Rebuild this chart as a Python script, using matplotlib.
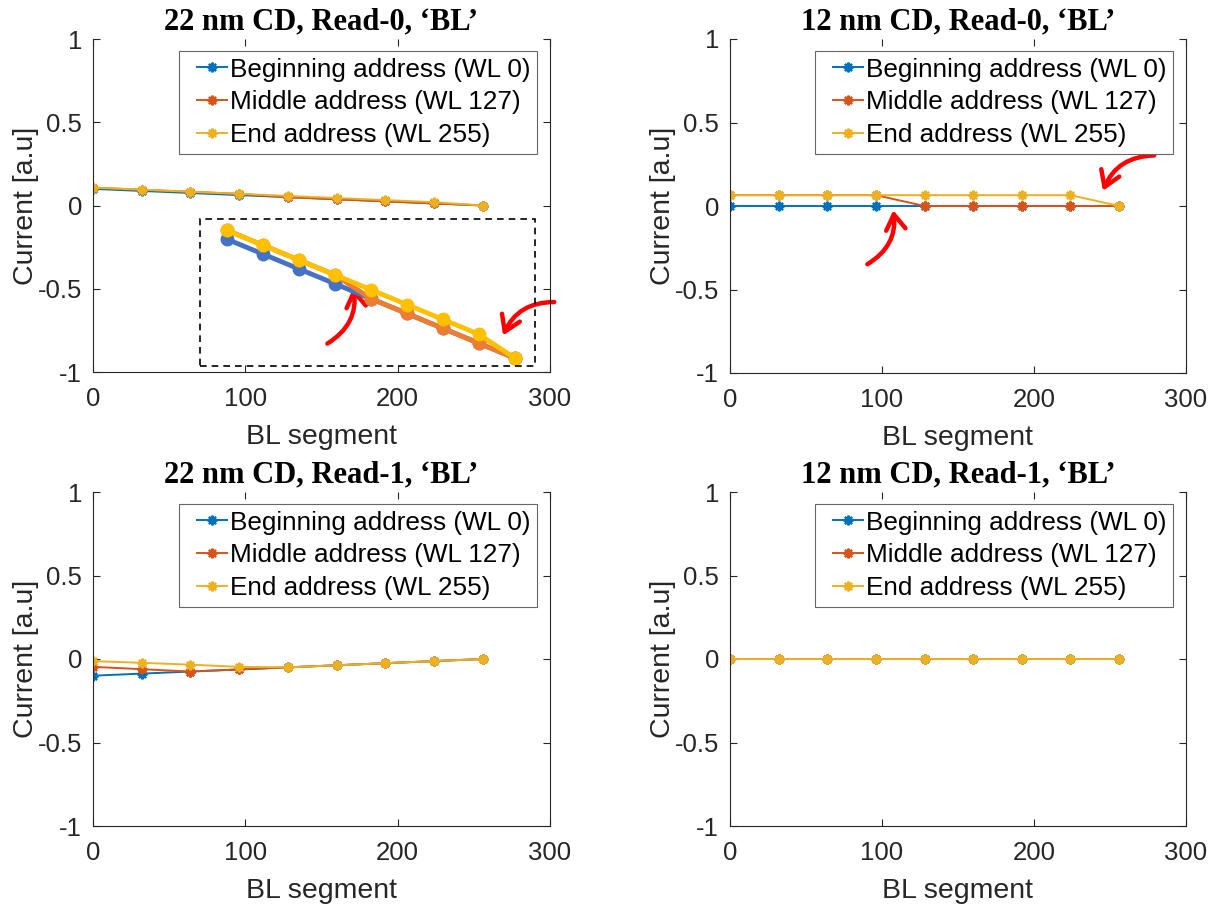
import matplotlib
matplotlib.use("Agg")
import matplotlib.pyplot as plt
from matplotlib.patches import FancyArrowPatch, Rectangle
from matplotlib.legend_handler import HandlerLine2D

# BL segment positions (9 sampled segments along the bit line)
bl_segment = [0, 32, 64, 96, 128, 160, 192, 224, 256]

series_labels = ["Beginning address (WL 0)", "Middle address (WL 127)", "End address (WL 255)"]

# 22 nm CD, Read-0
r0_22_wl0 = [0.100, 0.0875, 0.075, 0.0625, 0.050, 0.0375, 0.025, 0.0125, 0.0]
r0_22_wl127 = [0.1075, 0.095, 0.0825, 0.070, 0.050, 0.0375, 0.025, 0.0125, 0.0]
r0_22_wl255 = [0.1075, 0.095, 0.0825, 0.070, 0.0575, 0.045, 0.0325, 0.020, 0.0]

# 12 nm CD, Read-0
r0_12_wl0 = [0.0, 0.0, 0.0, 0.0, 0.0, 0.0, 0.0, 0.0, 0.0]
r0_12_wl127 = [0.065, 0.065, 0.065, 0.065, 0.0, 0.0, 0.0, 0.0, 0.0]
r0_12_wl255 = [0.065, 0.065, 0.065, 0.065, 0.065, 0.065, 0.065, 0.065, 0.0]

# 22 nm CD, Read-1
r1_22_wl0 = [-0.100, -0.0875, -0.075, -0.0625, -0.050, -0.0375, -0.025, -0.0125, 0.0]
r1_22_wl127 = [-0.047, -0.061, -0.075, -0.0625, -0.050, -0.0375, -0.025, -0.0125, 0.0]
r1_22_wl255 = [-0.0125, -0.023, -0.034, -0.047, -0.050, -0.0375, -0.025, -0.0125, 0.0]

# 12 nm CD, Read-1
r1_12_wl0 = [0.0] * 9
r1_12_wl127 = [0.0] * 9
r1_12_wl255 = [0.0] * 9

titles = ["22 nm CD, Read-0, \u2018BL\u2019", "12 nm CD, Read-0, \u2018BL\u2019",
          "22 nm CD, Read-1, \u2018BL\u2019", "12 nm CD, Read-1, \u2018BL\u2019"]
panels = [
    (r0_22_wl0, r0_22_wl127, r0_22_wl255),
    (r0_12_wl0, r0_12_wl127, r0_12_wl255),
    (r1_22_wl0, r1_22_wl127, r1_22_wl255),
    (r1_12_wl0, r1_12_wl127, r1_12_wl255),
]

x_ticks = [0, 100, 200, 300]
y_ticks = [-1, -0.5, 0, 0.5, 1]
y_tick_labels = ["-1", "-0.5", "0", "0.5", "1"]

line_colors = ["#0072BD", "#D95319", "#EDB120"]
zoom_colors = ["#4472C4", "#ED7D31", "#FFC000"]
axis_gray = "#262626"

plt.rcParams["font.family"] = ["Liberation Sans", "DejaVu Sans"]

W, H = 1227, 909
fig = plt.figure(figsize=(W / 100, H / 100), dpi=100)

positions = [
    (93, 39, 457, 333),
    (730, 39, 456, 334),
    (93, 492, 457, 334),
    (730, 492, 456, 334),
]

asterisk = (8, 2, 0)
# legend line sample indented inside its handle box
legend_handler = HandlerLine2D(xpad=0.45)

axes = []
for (px, py, pw, ph), title, data in zip(positions, titles, panels):
    ax = fig.add_axes([px / W, 1 - (py + ph) / H, pw / W, ph / H])
    for vals, col, lab in zip(data, line_colors, series_labels):
        ax.plot(bl_segment, vals, color=col, lw=1.4, marker=asterisk,
                markersize=7, markeredgewidth=1.6, label=lab)
    ax.set_xlim(0, 300)
    ax.set_ylim(-1, 1)
    ax.set_xticks(x_ticks)
    ax.set_yticks(y_ticks)
    ax.set_yticklabels(y_tick_labels)
    ax.tick_params(direction="in", length=5, width=0.8, colors=axis_gray,
                   labelsize=18.5, right=True, top=True)
    ax.tick_params(axis="x", pad=11)
    ax.tick_params(axis="y", pad=8)
    ax.spines["top"].set_visible(False)
    for s in ("left", "right", "bottom"):
        ax.spines[s].set_color(axis_gray)
        ax.spines[s].set_linewidth(0.8)
    ax.set_xlabel("BL segment", fontsize=20.5, color=axis_gray, labelpad=9)
    ax.set_ylabel("Current [a.u]", fontsize=20.5, color=axis_gray, labelpad=-1)
    ax.set_title(title, fontsize=22, fontweight="bold",
                 family=["Liberation Serif", "DejaVu Serif"], pad=7)
    handles, labels = ax.get_legend_handles_labels()
    leg = ax.legend(handles, labels, loc="upper right",
                    bbox_to_anchor=(0.9716, 0.964),
                    borderaxespad=0, fontsize=18.8, handlelength=1.6,
                    handletextpad=0.12, labelspacing=0.34, borderpad=0.25,
                    fancybox=False, framealpha=1, edgecolor="#666666",
                    handler_map={h: legend_handler for h in handles})
    leg.get_frame().set_linewidth(0.8)
    for t in leg.get_texts():
        t.set_color("black")
    axes.append(ax)

# Magnified view of the 22 nm Read-0 curves
ax_tl = axes[0]
zx0, zy0, zx1, zy1 = 200, 219, 535, 366
zoom_ax = fig.add_axes([zx0 / W, 1 - zy1 / H, (zx1 - zx0) / W, (zy1 - zy0) / H])
for vals, col in zip(panels[0], zoom_colors):
    zoom_ax.plot(bl_segment, vals, color=col, lw=3.5, marker="o",
                 markersize=9, solid_capstyle="round")
zoom_ax.set_xlim(-24, 274)
zoom_ax.set_ylim(-0.0067, 0.117)
zoom_ax.axis("off")
zoom_ax.patch.set_alpha(0)
fig.add_artist(Rectangle((zx0 / W, 1 - zy1 / H), (zx1 - zx0) / W, (zy1 - zy0) / H,
                         transform=fig.transFigure, fill=False, ls=(0, (4, 3)),
                         lw=1.2, edgecolor="black"))


def red_arrow(ax, tail, head, rad):
    arr = FancyArrowPatch(tail, head, transform=ax.transData,
                          connectionstyle=f"arc3,rad={rad}",
                          arrowstyle="->,head_length=0.55,head_width=0.35",
                          color="#FF0000", lw=3.2, mutation_scale=20, clip_on=False)
    ax.add_artist(arr)


red_arrow(ax_tl, (152.3, -0.838), (170.7, -0.477), 0.35)
red_arrow(ax_tl, (304.6, -0.58), (268.5, -0.796), 0.35)
red_arrow(axes[1], (280.9, 0.303), (244.7, 0.075), 0.35)
red_arrow(axes[1], (88.8, -0.357), (107.2, -0.009), 0.35)

fig.savefig("out.png", dpi=100)
